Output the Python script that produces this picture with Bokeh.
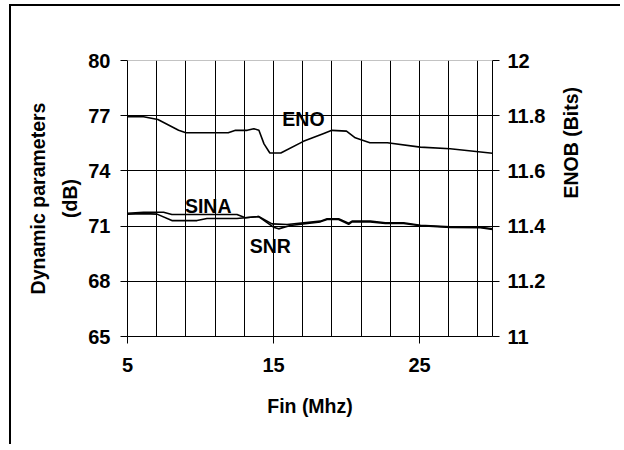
import math
from bokeh.plotting import figure
from bokeh.models import Range1d, LinearAxis, FixedTicker, Label, Span
from bokeh.embed import file_html
from bokeh.resources import INLINE

# ---- data ----
freq_eno = [5, 6.1, 7.08, 8.5, 9.0, 11.9, 12.4, 13.2, 13.65, 14.0, 14.35, 14.75,
            15.5, 17.05, 18.4, 19.0, 20.0, 20.6, 21.6, 22.8, 25.05, 27.1, 30]
enob_bits = [11.796, 11.796, 11.786, 11.747, 11.738, 11.738, 11.747, 11.747,
             11.753, 11.747, 11.698, 11.665, 11.665, 11.707, 11.735, 11.747,
             11.744, 11.72, 11.702, 11.702, 11.686, 11.68, 11.664]

freq_sina = [5, 6.1, 7.47, 8.04, 12.5, 13.07, 13.98, 14.9, 15.93, 18.21, 18.67,
             19.46, 20.15, 20.38, 21.63, 22.66, 23.91, 25.06, 27.12, 29.18, 30]
sina_db = [71.70, 71.75, 71.75, 71.63, 71.63, 71.45, 71.52, 71.12, 71.09, 71.27,
           71.40, 71.40, 71.16, 71.27, 71.27, 71.18, 71.18, 71.05, 70.96, 70.94, 70.86]

freq_snr = [5, 6.1, 7.02, 8.04, 9.76, 10.44, 12.5, 13.07, 13.98, 15.0, 15.35,
            16.15, 18.21, 18.67, 19.46, 20.15, 20.38, 21.63, 22.66, 23.91, 25.06,
            27.12, 29.18, 30]
snr_db = [71.65, 71.68, 71.65, 71.30, 71.30, 71.41, 71.41, 71.45, 71.52, 70.94,
          70.85, 71.03, 71.23, 71.36, 71.36, 71.10, 71.23, 71.23, 71.14, 71.14,
          71.02, 70.93, 70.91, 70.82]

x_tick_values = [5, 15, 25]
x_grid_values = [5, 7, 9, 11, 13, 15, 17, 19, 21, 23, 25, 27, 29]
db_ticks = [65, 68, 71, 74, 77, 80]
enob_ticks = [11, 11.2, 11.4, 11.6, 11.8, 12]
enob_tick_labels = ["11", "11.2", "11.4", "11.6", "11.8", "12"]

FONT = "Liberation Sans"
FS = "20px"
TS = "19.5px"

# canvas starts at (11, 6); the frame of the original figure is drawn as a
# CSS shadow on its top and left edges
p = figure(width=611, height=440, x_range=Range1d(5, 30), y_range=Range1d(65, 80),
           output_backend="svg", toolbar_location=None,
           min_border_left=116, min_border_right=130, min_border_top=54,
           min_border_bottom=110)
p.styles = {"position": "absolute", "left": "11px", "top": "6px",
            "box-shadow": "-2px -2px 0px 0px black"}
p.extra_y_ranges = {"enob": Range1d(11, 12)}
p.outline_line_color = None
p.background_fill_color = "white"
p.border_fill_color = "white"

def style_axis(ax):
    ax.axis_line_color = "black"
    ax.axis_line_width = 1
    ax.major_tick_line_color = "black"
    ax.major_tick_in = 0
    ax.major_tick_out = 7
    ax.minor_tick_line_color = None
    ax.major_label_text_font = FONT
    ax.major_label_text_font_style = "bold"
    ax.major_label_text_font_size = FS
    ax.major_label_text_color = "black"
    ax.axis_label_text_font = FONT
    ax.axis_label_text_font_style = "bold"
    ax.axis_label_text_font_size = TS
    ax.axis_label_text_color = "black"

xa = p.xaxis[0]
style_axis(xa)
xa.ticker = FixedTicker(ticks=x_tick_values)
xa.axis_label = "Fin (Mhz)"
xa.major_label_standoff = 14
xa.axis_label_standoff = 20

ya = p.yaxis[0]
style_axis(ya)
ya.ticker = FixedTicker(ticks=db_ticks)
ya.axis_label = "Dynamic parameters\n(dB)"
ya.axis_label_text_line_height = 1.45
ya.major_label_standoff = 10
ya.axis_label_standoff = 4

ra = LinearAxis(y_range_name="enob", ticker=FixedTicker(ticks=enob_ticks),
                major_label_overrides={t: s for t, s in zip(enob_ticks, enob_tick_labels)},
                axis_label="ENOB (Bits)", axis_label_orientation=math.pi / 2)
style_axis(ra)
ra.major_label_standoff = 8
ra.axis_label_standoff = 23
p.add_layout(ra, "right")

p.xgrid.ticker = FixedTicker(ticks=x_grid_values)
p.xgrid.grid_line_color = "black"
p.xgrid.grid_line_width = 1
p.ygrid.ticker = FixedTicker(ticks=[68, 71, 74, 77])
p.ygrid.grid_line_color = "black"
p.ygrid.grid_line_width = 1
p.add_layout(Span(location=80, dimension="width", line_color="#888888", line_width=1))

p.line(freq_eno, enob_bits, y_range_name="enob", line_color="black", line_width=1.6)
p.line(freq_sina, sina_db, line_color="black", line_width=1.6)
p.line(freq_snr, snr_db, line_color="black", line_width=1.6)

for txt, x, y in [("ENO", 17.05, 76.8), ("SINA", 10.53, 72.07), ("SNR", 14.78, 69.92)]:
    p.add_layout(Label(x=x, y=y, text=txt, text_align="center", text_baseline="middle",
                       text_font=FONT, text_font_style="bold", text_font_size="19.5px",
                       text_color="black"))

open("out.html", "w").write(file_html(p, INLINE))
